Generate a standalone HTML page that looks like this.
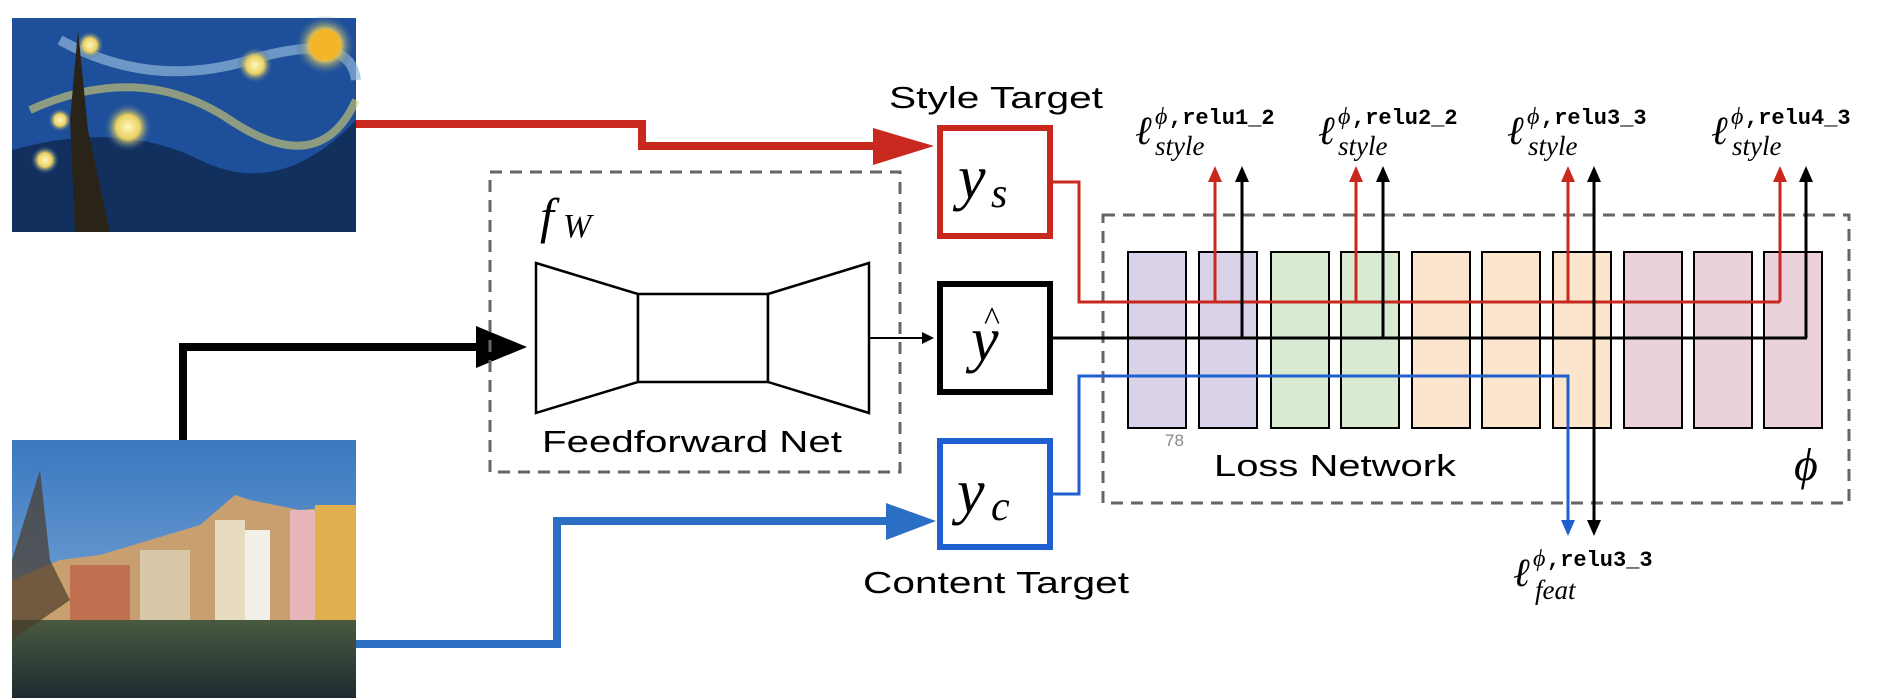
<!DOCTYPE html>
<html><head><meta charset="utf-8"><style>
html,body{margin:0;padding:0;background:#fff;width:1880px;height:700px;overflow:hidden}
svg{display:block}
.t{font-family:"Liberation Sans",sans-serif;font-size:31px;fill:#000}
.m{font-family:"Liberation Serif",serif;font-style:italic;fill:#000}
.mono{font-family:"Liberation Mono",monospace;font-weight:bold;fill:#000}
</style></head><body>
<svg width="1880" height="700" viewBox="0 0 1880 700" xmlns="http://www.w3.org/2000/svg">
<defs>
<radialGradient id="star" cx="50%" cy="50%" r="50%"><stop offset="0" stop-color="#fff8c0"/><stop offset="0.5" stop-color="#e8d060"/><stop offset="1" stop-color="#2a5aa0" stop-opacity="0"/></radialGradient>
<linearGradient id="sky" x1="0" y1="0" x2="0" y2="1"><stop offset="0" stop-color="#3a78c0"/><stop offset="1" stop-color="#8db3da"/></linearGradient>
<linearGradient id="water" x1="0" y1="0" x2="0" y2="1"><stop offset="0" stop-color="#4a5a40"/><stop offset="1" stop-color="#1e2a30"/></linearGradient>
</defs>
<!-- Starry night -->
<rect x="12" y="18" width="344" height="214" fill="#1d4f9a"/>
<path d="M12,150 Q120,120 200,160 T356,120 L356,232 L12,232Z" fill="#12305e"/>
<path d="M60,40 Q150,90 250,60 T356,80" stroke="#8fb6d8" stroke-width="10" fill="none" opacity="0.7"/>
<path d="M30,110 Q140,60 230,120 T356,100" stroke="#d8d070" stroke-width="8" fill="none" opacity="0.6"/>
<circle cx="325" cy="45" r="30" fill="url(#star)"/><circle cx="325" cy="45" r="16" fill="#f3b62a"/>
<circle cx="128" cy="127" r="24" fill="url(#star)"/>
<circle cx="255" cy="65" r="18" fill="url(#star)"/>
<circle cx="90" cy="45" r="14" fill="url(#star)"/>
<circle cx="45" cy="160" r="14" fill="url(#star)"/>
<circle cx="60" cy="120" r="12" fill="url(#star)"/>
<path d="M75,232 L70,120 L78,30 L88,130 L110,232Z" fill="#2a2418"/>
<!-- Town -->
<rect x="12" y="440" width="344" height="258" fill="url(#sky)"/>
<path d="M12,580 L60,560 L100,555 L150,540 L200,525 L235,495 L250,500 L300,510 L356,505 L356,640 L12,640Z" fill="#c8a070"/>
<rect x="215" y="520" width="30" height="110" fill="#e8dcc0"/>
<rect x="245" y="530" width="25" height="100" fill="#f0f0e8"/>
<rect x="290" y="510" width="25" height="120" fill="#e6b6b8"/>
<rect x="315" y="505" width="41" height="125" fill="#e0b050"/>
<rect x="140" y="550" width="50" height="80" fill="#d8c8a8"/>
<rect x="70" y="565" width="60" height="60" fill="#c07050"/>
<rect x="12" y="620" width="344" height="78" fill="url(#water)"/>
<path d="M12,560 L40,470 L50,560 L70,600 L12,640Z" fill="#4a3a2a" opacity="0.7"/>
<!-- red path -->
<polyline points="356,124 642,124 642,146 880,146" fill="none" stroke="#c8281e" stroke-width="8"/>
<polygon points="873,128 934,146 873,165" fill="#c8281e"/>
<!-- black input path -->
<polyline points="183,440 183,347 480,347" fill="none" stroke="#000" stroke-width="8"/>
<polygon points="476,326 527,347 476,368" fill="#000"/>
<!-- blue path -->
<polyline points="356,644 557,644 557,521 890,521" fill="none" stroke="#2a6fc4" stroke-width="8"/>
<polygon points="886,503 936,521 886,540" fill="#2a6fc4"/>
<!-- fW box -->
<rect x="490" y="172" width="410" height="300" fill="none" stroke="#666" stroke-width="3" stroke-dasharray="12,8"/>
<text x="540" y="233" class="m" font-size="50">f</text><text x="563" y="237" class="m" font-size="34">W</text>
<polygon points="536,263 638,294 638,382 536,413" fill="#fff" stroke="#000" stroke-width="2.5"/>
<rect x="638" y="294" width="130" height="88" fill="#fff" stroke="#000" stroke-width="2.5"/>
<polygon points="768,294 869,263 869,413 768,382" fill="#fff" stroke="#000" stroke-width="2.5"/>
<text x="542" y="452" class="t" textLength="300" lengthAdjust="spacingAndGlyphs">Feedforward Net</text>
<line x1="869" y1="338" x2="924" y2="338" stroke="#000" stroke-width="2"/>
<polygon points="922,332 934,338 922,344" fill="#000"/>
<!-- Loss network -->
<rect x="1103" y="215" width="746" height="288" fill="none" stroke="#666" stroke-width="3" stroke-dasharray="12,8"/>
<g stroke="#000" stroke-width="2">
<rect x="1128" y="252" width="58" height="176" fill="#d9d2e9"/>
<rect x="1199" y="252" width="58" height="176" fill="#d9d2e9"/>
<rect x="1271" y="252" width="58" height="176" fill="#d9ead3"/>
<rect x="1341" y="252" width="58" height="176" fill="#d9ead3"/>
<rect x="1412" y="252" width="58" height="176" fill="#fce5cd"/>
<rect x="1482" y="252" width="58" height="176" fill="#fce5cd"/>
<rect x="1553" y="252" width="58" height="176" fill="#fce5cd"/>
<rect x="1624" y="252" width="58" height="176" fill="#ead1dc"/>
<rect x="1694" y="252" width="58" height="176" fill="#ead1dc"/>
<rect x="1764" y="252" width="58" height="176" fill="#ead1dc"/>
</g>
<text x="1165" y="446" font-family="Liberation Sans,sans-serif" font-size="17" fill="#888">78</text>
<text x="1214" y="476" class="t" textLength="242" lengthAdjust="spacingAndGlyphs">Loss Network</text>
<text x="1794" y="480" class="m" font-size="46">ϕ</text>
<!-- red lines -->
<polyline points="1052,182 1079,182 1079,302 1780,302" fill="none" stroke="#c8281e" stroke-width="3"/>
<g stroke="#c8281e" stroke-width="3"><line x1="1215" y1="302" x2="1215" y2="178"/><line x1="1356" y1="302" x2="1356" y2="178"/><line x1="1568" y1="302" x2="1568" y2="178"/><line x1="1780" y1="302" x2="1780" y2="178"/></g>
<g fill="#c8281e"><polygon points="1208,182 1215,166 1222,182"/><polygon points="1349,182 1356,166 1363,182"/><polygon points="1561,182 1568,166 1575,182"/><polygon points="1773,182 1780,166 1787,182"/></g>
<!-- black lines -->
<line x1="1052" y1="338" x2="1807" y2="338" stroke="#000" stroke-width="3"/>
<g stroke="#000" stroke-width="3"><line x1="1242" y1="338" x2="1242" y2="178"/><line x1="1383" y1="338" x2="1383" y2="178"/><line x1="1594" y1="525" x2="1594" y2="178"/><line x1="1806" y1="338" x2="1806" y2="178"/></g>
<g fill="#000"><polygon points="1235,182 1242,166 1249,182"/><polygon points="1376,182 1383,166 1390,182"/><polygon points="1587,182 1594,166 1601,182"/><polygon points="1799,182 1806,166 1813,182"/><polygon points="1587,520 1594,536 1601,520"/></g>
<!-- blue -->
<polyline points="1052,494 1079,494 1079,376 1568,376 1568,525" fill="none" stroke="#1f5fcf" stroke-width="3"/>
<polygon points="1561,520 1568,536 1575,520" fill="#1f5fcf"/>
<!-- target boxes -->
<rect x="940" y="128" width="110" height="108" fill="#fff" stroke="#c8281e" stroke-width="6"/>
<text x="958" y="198" class="m" font-size="62">y</text><text x="991" y="207" class="m" font-size="42">s</text>
<rect x="940" y="284" width="110" height="108" fill="#fff" stroke="#000" stroke-width="6"/>
<text x="971" y="360" class="m" font-size="62">y</text><text x="984" y="330" font-family="Liberation Serif,serif" font-size="34">^</text>
<rect x="940" y="441" width="110" height="106" fill="#fff" stroke="#1f5fcf" stroke-width="6"/>
<text x="957" y="512" class="m" font-size="62">y</text><text x="991" y="520" class="m" font-size="42">c</text>
<text x="889" y="108" class="t" textLength="214" lengthAdjust="spacingAndGlyphs">Style Target</text>
<text x="863" y="593" class="t" textLength="266" lengthAdjust="spacingAndGlyphs">Content Target</text>
<!-- loss labels -->
<g>
<text x="1135" y="144" class="m" font-size="40">ℓ</text><text x="1155" y="124" class="m" font-size="24">ϕ</text><text x="1169" y="124" class="mono" font-size="22">,relu1_2</text><text x="1155" y="155" class="m" font-size="27">style</text>
<text x="1318" y="144" class="m" font-size="40">ℓ</text><text x="1338" y="124" class="m" font-size="24">ϕ</text><text x="1352" y="124" class="mono" font-size="22">,relu2_2</text><text x="1338" y="155" class="m" font-size="27">style</text>
<text x="1507" y="144" class="m" font-size="40">ℓ</text><text x="1527" y="124" class="m" font-size="24">ϕ</text><text x="1541" y="124" class="mono" font-size="22">,relu3_3</text><text x="1528" y="155" class="m" font-size="27">style</text>
<text x="1711" y="144" class="m" font-size="40">ℓ</text><text x="1731" y="124" class="m" font-size="24">ϕ</text><text x="1745" y="124" class="mono" font-size="22">,relu4_3</text><text x="1732" y="155" class="m" font-size="27">style</text>
<text x="1513" y="586" class="m" font-size="40">ℓ</text><text x="1533" y="566" class="m" font-size="24">ϕ</text><text x="1547" y="566" class="mono" font-size="22">,relu3_3</text><text x="1535" y="599" class="m" font-size="27">feat</text>
</g>
</svg>
</body></html>
